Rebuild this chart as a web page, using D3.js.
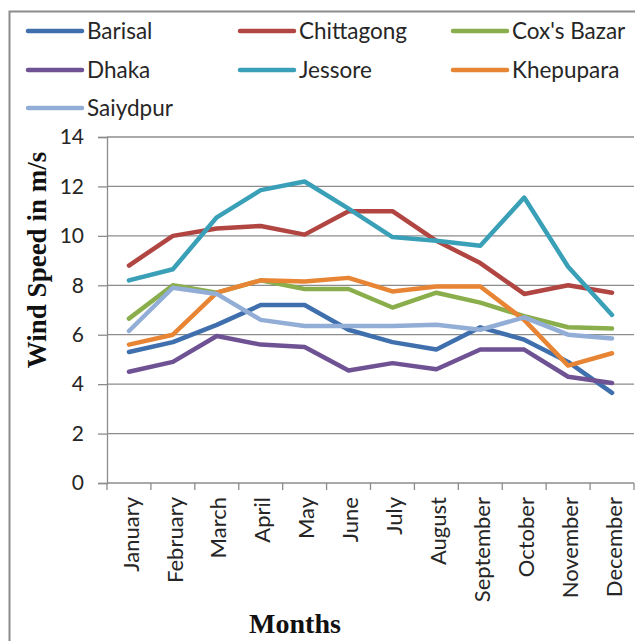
<!DOCTYPE html>
<html>
<head>
<meta charset="utf-8">
<script src="https://cdn.jsdelivr.net/npm/d3@7"></script>
<style>
	body { margin: 0; background: #fff; }
	svg { display: block; }
</style>
</head>
<body>
<div id="container"></div>
<script>
// ==============
//	DATA
// ==============

var months = ["January", "February", "March", "April", "May", "June",
	"July", "August", "September", "October", "November", "December"];

var stations = ["Barisal", "Chittagong", "Cox's Bazar", "Dhaka", "Jessore", "Khepupara", "Saiydpur"];

// monthly mean wind speed (m/s)
var barisal    = [5.3, 5.7, 6.4, 7.2, 7.2, 6.2, 5.7, 5.4, 6.3, 5.8, 4.9, 3.65];
var chittagong = [8.8, 10.0, 10.3, 10.4, 10.05, 11.0, 11.0, 9.8, 8.9, 7.65, 8.0, 7.7];
var coxsBazar  = [6.65, 8.0, 7.7, 8.2, 7.85, 7.85, 7.1, 7.7, 7.3, 6.75, 6.3, 6.25];
var dhaka      = [4.5, 4.9, 5.95, 5.6, 5.5, 4.55, 4.85, 4.6, 5.4, 5.4, 4.3, 4.05];
var jessore    = [8.2, 8.65, 10.75, 11.85, 12.2, 11.1, 9.95, 9.8, 9.6, 11.55, 8.75, 6.8];
var khepupara  = [5.6, 6.0, 7.7, 8.2, 8.15, 8.3, 7.75, 7.95, 7.95, 6.6, 4.75, 5.25];
var saiydpur   = [6.15, 7.9, 7.65, 6.6, 6.35, 6.35, 6.35, 6.4, 6.2, 6.7, 6.0, 5.85];

var yTicks = [0, 2, 4, 6, 8, 10, 12, 14];

// ==============
//	OPTIONS
// ==============

var W = 635, H = 641,
	plot = {left: 107, right: 634, top: 137, bottom: 483};

var colors = ["#3f6fad", "#b04542", "#8aae4c", "#6f5294", "#3aa0b8", "#e88534", "#92aed6"];
var sansFont = "Lato, 'Open Sans', sans-serif",
	serifFont = "'Liberation Serif', 'Times New Roman', serif",
	colText = "#262626",
	colGrid = "#8c8c8c";

var series = [barisal, chittagong, coxsBazar, dhaka, jessore, khepupara, saiydpur]
	.map((vals, i) => ({name: stations[i], color: colors[i], values: vals}));

// ==============
//	DRAW
// ==============

var svg = d3.select("#container").append("svg")
	.attr("width", W)
	.attr("height", H);

svg.append("rect")
	.attr("width", W).attr("height", H)
	.attr("fill", "#fff");

// outer frame (only left and top edges fall inside the picture)
svg.append("rect")
	.attr("x", 9.5).attr("y", 11.5)
	.attr("width", W + 20).attr("height", H + 20)
	.attr("fill", "none")
	.attr("stroke", "#8c8c8c")
	.attr("stroke-width", 2);

var x = d3.scaleBand()
	.domain(months)
	.range([plot.left, plot.right]);

var y = d3.scaleLinear()
	.domain([0, 14])
	.range([plot.bottom, plot.top]);

// === gridlines
svg.append("g")
	.selectAll("line")
	.data(yTicks.filter(d => d > 0))
	.join("line")
		.attr("x1", plot.left).attr("x2", plot.right)
		.attr("y1", d => y(d)).attr("y2", d => y(d))
		.attr("stroke", colGrid)
		.attr("stroke-width", 1.3);

// === y axis
var yAxis = svg.append("g")
	.attr("transform", "translate(" + plot.left + ",0)")
	.call(d3.axisLeft(y).tickValues(yTicks).tickSize(9).tickPadding(14));

yAxis.select(".domain").attr("stroke", colGrid).attr("stroke-width", 1.3);
yAxis.selectAll(".tick line").attr("stroke", colGrid).attr("stroke-width", 1.3);
yAxis.selectAll("text")
	.style("font", "21px " + sansFont)
	.attr("fill", colText);

// === x axis (ticks on band edges)
svg.append("line")
	.attr("x1", plot.left).attr("x2", plot.right)
	.attr("y1", plot.bottom).attr("y2", plot.bottom)
	.attr("stroke", colGrid).attr("stroke-width", 1.3);

svg.append("g")
	.selectAll("line")
	.data(months.concat(["end"]))
	.join("line")
		.attr("x1", (d, i) => plot.left + i * x.step())
		.attr("x2", (d, i) => plot.left + i * x.step())
		.attr("y1", plot.bottom).attr("y2", plot.bottom + 7)
		.attr("stroke", colGrid).attr("stroke-width", 1.3);

svg.append("g")
	.style("font", "22px " + sansFont)
	.attr("fill", colText)
	.selectAll("text")
	.data(months)
	.join("text")
		.attr("transform", d => "translate(" + (x(d) + x.bandwidth() / 2 + 2) + "," + (plot.bottom + 14) + ") rotate(-90)")
		.attr("text-anchor", "end")
		.attr("dy", "0.35em")
		.text(d => d);

// === lines
var line = d3.line()
	.x((d, i) => x(months[i]) + x.bandwidth() / 2)
	.y(d => y(d));

svg.append("g")
	.attr("fill", "none")
	.attr("stroke-width", 4.5)
	.attr("stroke-linejoin", "round")
	.attr("stroke-linecap", "round")
	.selectAll("path")
	.data(series)
	.join("path")
		.attr("stroke", d => d.color)
		.attr("d", d => line(d.values));

// === axis titles
svg.append("text")
	.attr("transform", "translate(46,260) rotate(-90)")
	.attr("text-anchor", "middle")
	.style("font", "bold 27px " + serifFont)
	.attr("fill", "#111")
	.text("Wind Speed in m/s");

svg.append("text")
	.attr("x", 295).attr("y", 633)
	.attr("text-anchor", "middle")
	.style("font", "bold 28px " + serifFont)
	.attr("fill", "#111")
	.text("Months");

// === legend
var legCols = [28, 240, 453], legRows = [31, 70, 108];

var leg = svg.append("g")
	.selectAll("g")
	.data(series)
	.join("g")
		.attr("transform", (d, i) => "translate(" + legCols[i % 3] + "," + legRows[Math.floor(i / 3)] + ")");

leg.append("line")
	.attr("x1", 0).attr("x2", 54)
	.attr("stroke", d => d.color)
	.attr("stroke-width", 4.5)
	.attr("stroke-linecap", "round");

leg.append("text")
	.attr("x", 59)
	.attr("dy", "0.35em")
	.style("font", "22.5px " + sansFont)
	.attr("fill", colText)
	.text(d => d.name);
</script>
</body>
</html>
